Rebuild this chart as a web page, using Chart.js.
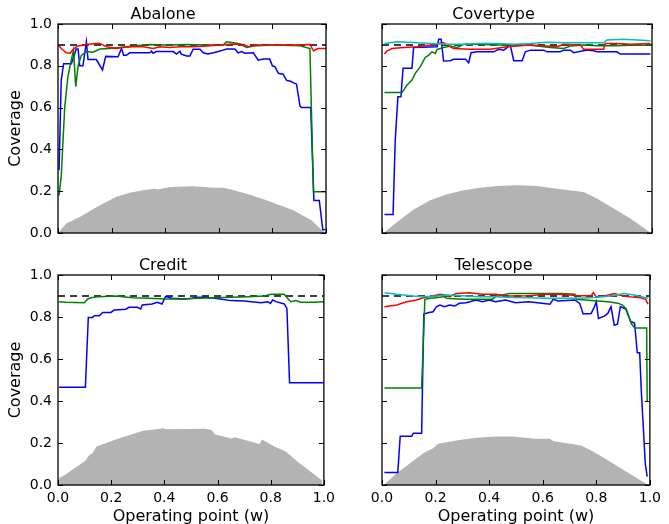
<!DOCTYPE html>
<html>
<head>
<meta charset="utf-8">
<script src="https://cdn.jsdelivr.net/npm/chart.js@4.4.0/dist/chart.umd.min.js"></script>
<style>
  html, body { margin: 0; padding: 0; background: #fff; }
  #wrap { position: relative; width: 669px; height: 524px; overflow: hidden; }
  canvas { position: absolute; }
</style>
</head>
<body>
<div id="wrap">
  <canvas id="abalone" width="340" height="250" style="left:0;top:0"></canvas>
  <canvas id="covertype" width="331" height="250" style="left:335px;top:0"></canvas>
  <canvas id="credit" width="340" height="273" style="left:0;top:251px"></canvas>
  <canvas id="telescope" width="331" height="273" style="left:335px;top:251px"></canvas>
</div>
<script>
// axis ticks shared by all panels
const tickValues = [0, 0.2, 0.4, 0.6, 0.8, 1.0];
const target = 0.9;

// Abalone
const abaloneBlue = [[0.004,0.30],[0.012,0.73],[0.021,0.81],[0.05,0.81],[0.068,0.88],[0.075,0.88],[0.081,0.80],[0.093,0.80],[0.106,0.915],[0.112,0.83],[0.143,0.83],[0.166,0.78],[0.178,0.845],[0.224,0.843],[0.237,0.883],[0.245,0.85],[0.255,0.85],[0.268,0.862],[0.342,0.862],[0.349,0.87],[0.355,0.86],[0.367,0.868],[0.43,0.868],[0.442,0.856],[0.455,0.87],[0.46,0.856],[0.48,0.847],[0.492,0.847],[0.504,0.879],[0.53,0.879],[0.542,0.862],[0.56,0.856],[0.58,0.862],[0.598,0.868],[0.616,0.875],[0.629,0.88],[0.66,0.88],[0.672,0.862],[0.685,0.868],[0.697,0.86],[0.729,0.862],[0.747,0.827],[0.766,0.832],[0.79,0.832],[0.8,0.80],[0.81,0.795],[0.822,0.764],[0.84,0.76],[0.853,0.73],[0.865,0.727],[0.89,0.712],[0.903,0.607],[0.909,0.60],[0.943,0.60],[0.955,0.155],[0.975,0.155],[0.988,0.016],[0.996,0.016]];
const abaloneGreen = [[0.004,0.18],[0.012,0.27],[0.025,0.60],[0.037,0.75],[0.05,0.83],[0.058,0.875],[0.066,0.70],[0.075,0.80],[0.087,0.85],[0.106,0.868],[0.131,0.865],[0.156,0.88],[0.193,0.883],[0.23,0.888],[0.28,0.895],[0.342,0.902],[0.405,0.899],[0.48,0.902],[0.554,0.899],[0.616,0.899],[0.629,0.915],[0.654,0.91],[0.679,0.904],[0.704,0.888],[0.729,0.895],[0.778,0.898],[0.84,0.898],[0.903,0.896],[0.94,0.883],[0.953,0.197],[1.0,0.197]];
const abaloneRed = [[0.0,0.902],[0.012,0.883],[0.031,0.862],[0.046,0.86],[0.056,0.879],[0.075,0.895],[0.106,0.902],[0.143,0.907],[0.156,0.907],[0.181,0.891],[0.218,0.883],[0.243,0.887],[0.28,0.891],[0.318,0.891],[0.355,0.883],[0.38,0.891],[0.417,0.888],[0.455,0.891],[0.504,0.891],[0.554,0.895],[0.604,0.899],[0.654,0.904],[0.691,0.902],[0.71,0.891],[0.741,0.899],[0.803,0.899],[0.878,0.899],[0.94,0.902],[0.953,0.872],[0.971,0.883],[1.0,0.883]];
const abaloneGray = [[0,0],[0.031,0.045],[0.081,0.077],[0.156,0.133],[0.218,0.173],[0.268,0.192],[0.318,0.205],[0.361,0.212],[0.374,0.208],[0.417,0.22],[0.504,0.224],[0.579,0.217],[0.616,0.216],[0.635,0.212],[0.704,0.188],[0.778,0.157],[0.878,0.109],[0.946,0.061],[0.996,0]];

// Covertype
const covertypeBlue = [[0.009,0.089],[0.041,0.089],[0.049,0.444],[0.059,0.652],[0.07,0.652],[0.078,0.788],[0.111,0.788],[0.117,0.888],[0.204,0.891],[0.21,0.927],[0.219,0.927],[0.228,0.823],[0.253,0.824],[0.265,0.831],[0.309,0.831],[0.321,0.815],[0.33,0.863],[0.352,0.867],[0.414,0.867],[0.432,0.879],[0.451,0.875],[0.475,0.899],[0.488,0.824],[0.519,0.824],[0.531,0.867],[0.549,0.875],[0.599,0.875],[0.611,0.867],[0.66,0.867],[0.673,0.875],[0.698,0.875],[0.71,0.863],[0.728,0.867],[0.759,0.875],[0.784,0.872],[0.796,0.867],[0.87,0.867],[0.883,0.856],[0.994,0.856]];
const covertypeGreen = [[0.009,0.672],[0.074,0.672],[0.093,0.708],[0.111,0.732],[0.123,0.764],[0.142,0.796],[0.16,0.84],[0.173,0.851],[0.185,0.867],[0.198,0.859],[0.204,0.879],[0.216,0.883],[0.228,0.888],[0.241,0.891],[0.253,0.895],[0.278,0.887],[0.302,0.903],[0.364,0.903],[0.426,0.899],[0.488,0.899],[0.549,0.898],[0.599,0.891],[0.623,0.887],[0.673,0.883],[0.698,0.895],[0.747,0.899],[0.796,0.896],[0.858,0.896],[0.92,0.898],[0.994,0.898]];
const covertypeRed = [[0.009,0.856],[0.019,0.872],[0.037,0.883],[0.08,0.888],[0.13,0.891],[0.179,0.899],[0.228,0.911],[0.241,0.899],[0.265,0.883],[0.327,0.879],[0.401,0.879],[0.463,0.891],[0.5,0.895],[0.549,0.899],[0.611,0.895],[0.648,0.891],[0.673,0.903],[0.735,0.899],[0.747,0.879],[0.821,0.879],[0.827,0.907],[0.87,0.907],[0.92,0.903],[0.994,0.907]];
const covertypeCyan = [[0.009,0.907],[0.056,0.915],[0.117,0.911],[0.179,0.907],[0.241,0.903],[0.302,0.903],[0.364,0.907],[0.426,0.907],[0.488,0.903],[0.549,0.907],[0.611,0.913],[0.673,0.91],[0.747,0.91],[0.821,0.91],[0.833,0.923],[0.895,0.927],[0.994,0.92]];
const covertypeGray = [[0.006,0],[0.056,0.053],[0.117,0.112],[0.179,0.157],[0.241,0.185],[0.302,0.204],[0.364,0.217],[0.426,0.225],[0.5,0.228],[0.574,0.225],[0.648,0.212],[0.747,0.196],[0.796,0.165],[0.858,0.117],[0.92,0.069],[0.996,0]];

// Credit
const creditBlue = [[0.004,0.465],[0.103,0.465],[0.114,0.798],[0.13,0.798],[0.137,0.806],[0.155,0.806],[0.168,0.822],[0.199,0.822],[0.211,0.833],[0.255,0.837],[0.267,0.846],[0.298,0.846],[0.311,0.838],[0.317,0.857],[0.354,0.862],[0.373,0.87],[0.391,0.862],[0.404,0.897],[0.416,0.894],[0.429,0.889],[0.478,0.886],[0.503,0.889],[0.528,0.894],[0.553,0.894],[0.59,0.889],[0.615,0.884],[0.652,0.878],[0.702,0.876],[0.727,0.873],[0.764,0.868],[0.789,0.873],[0.799,0.865],[0.807,0.881],[0.82,0.873],[0.851,0.862],[0.861,0.841],[0.871,0.487],[1.0,0.487]];
const creditGreen = [[0.004,0.873],[0.031,0.87],[0.099,0.868],[0.112,0.886],[0.124,0.892],[0.155,0.897],[0.217,0.9],[0.28,0.892],[0.342,0.889],[0.404,0.886],[0.466,0.886],[0.528,0.889],[0.59,0.892],[0.652,0.894],[0.714,0.897],[0.776,0.9],[0.801,0.908],[0.851,0.908],[0.863,0.889],[0.876,0.873],[0.894,0.878],[0.913,0.87],[0.963,0.87],[1.0,0.873]];
const creditGray = [[0.004,0.032],[0.031,0.052],[0.103,0.116],[0.118,0.143],[0.13,0.151],[0.145,0.183],[0.217,0.217],[0.317,0.257],[0.398,0.27],[0.404,0.265],[0.478,0.267],[0.553,0.268],[0.578,0.262],[0.59,0.241],[0.615,0.233],[0.652,0.222],[0.665,0.227],[0.727,0.206],[0.758,0.195],[0.767,0.217],[0.814,0.183],[0.857,0.159],[0.901,0.111],[0.994,0.021]];

// Telescope
const telescopeBlue = [[0.009,0.06],[0.059,0.06],[0.068,0.232],[0.111,0.232],[0.117,0.247],[0.148,0.247],[0.156,0.814],[0.172,0.82],[0.191,0.825],[0.203,0.849],[0.216,0.857],[0.234,0.849],[0.252,0.857],[0.271,0.852],[0.289,0.865],[0.314,0.868],[0.351,0.881],[0.375,0.873],[0.4,0.881],[0.424,0.873],[0.461,0.881],[0.498,0.868],[0.547,0.873],[0.597,0.865],[0.627,0.861],[0.639,0.884],[0.658,0.876],[0.72,0.881],[0.738,0.865],[0.751,0.814],[0.781,0.817],[0.793,0.849],[0.8,0.873],[0.808,0.793],[0.83,0.804],[0.843,0.817],[0.855,0.849],[0.867,0.761],[0.879,0.766],[0.89,0.85],[0.91,0.838],[0.928,0.78],[0.943,0.77],[0.953,0.63],[0.962,0.63],[0.968,0.45],[0.983,0.10],[0.99,0.04]];
const telescopeGreen = [[0.009,0.462],[0.148,0.462],[0.16,0.884],[0.178,0.889],[0.203,0.892],[0.234,0.897],[0.24,0.889],[0.301,0.885],[0.363,0.885],[0.412,0.885],[0.424,0.897],[0.474,0.912],[0.547,0.912],[0.67,0.912],[0.72,0.908],[0.726,0.884],[0.793,0.877],[0.843,0.873],[0.881,0.866],[0.898,0.857],[0.912,0.837],[0.93,0.77],[0.943,0.748],[0.988,0.748],[0.99,0.40]];
const telescopeRed = [[0.009,0.849],[0.055,0.857],[0.092,0.873],[0.129,0.881],[0.154,0.892],[0.178,0.897],[0.216,0.908],[0.234,0.905],[0.252,0.897],[0.277,0.912],[0.326,0.916],[0.375,0.908],[0.424,0.908],[0.474,0.9],[0.547,0.901],[0.609,0.908],[0.67,0.908],[0.732,0.901],[0.781,0.901],[0.789,0.916],[0.799,0.897],[0.83,0.9],[0.867,0.912],[0.886,0.905],[0.916,0.897],[0.966,0.892],[0.984,0.884],[0.993,0.861]];
const telescopeCyan = [[0.009,0.916],[0.055,0.908],[0.117,0.9],[0.154,0.897],[0.203,0.9],[0.24,0.905],[0.301,0.901],[0.363,0.897],[0.424,0.897],[0.486,0.893],[0.547,0.892],[0.609,0.889],[0.67,0.889],[0.732,0.889],[0.793,0.893],[0.855,0.9],[0.904,0.912],[0.941,0.905],[0.993,0.889]];
const telescopeGray = [[0.006,0],[0.055,0.056],[0.117,0.116],[0.16,0.156],[0.191,0.175],[0.209,0.196],[0.277,0.212],[0.351,0.225],[0.424,0.231],[0.486,0.231],[0.572,0.22],[0.627,0.22],[0.639,0.209],[0.72,0.193],[0.744,0.188],[0.793,0.156],[0.855,0.108],[0.916,0.061],[0.993,0]];

Chart.defaults.font.family = "'DejaVu Sans', 'Bitstream Vera Sans', sans-serif";
Chart.defaults.color = "#000";

const toXY = (pairs) => pairs.map(([x, y]) => ({ x, y }));

// matplotlib-style frame with inward ticks on all four sides
const frameTicks = {
	id: "frameTicks",
	afterDatasetsDraw(chart) {
		const { ctx, chartArea: a, scales } = chart;
		const x = scales.x, y = scales.y;
		ctx.save();
		ctx.strokeStyle = "#000";
		ctx.lineWidth = 1;
		ctx.beginPath();
		x.ticks.forEach((t) => {
			const px = Math.round(x.getPixelForValue(t.value)) + 0.5;
			ctx.moveTo(px, a.bottom);
			ctx.lineTo(px, a.bottom - 5);
			ctx.moveTo(px, a.top);
			ctx.lineTo(px, a.top + 5);
		});
		y.ticks.forEach((t) => {
			const py = Math.round(y.getPixelForValue(t.value)) + 0.5;
			ctx.moveTo(a.left, py);
			ctx.lineTo(a.left + 5, py);
			ctx.moveTo(a.right, py);
			ctx.lineTo(a.right - 5, py);
		});
		ctx.stroke();
		ctx.lineWidth = 1.3;
		ctx.strokeRect(a.left, a.top, a.right - a.left, a.bottom - a.top);
		ctx.restore();
	},
};

function lineSet(pairs, color, order) {
	return {
		data: toXY(pairs),
		borderColor: color,
		borderWidth: 1.5,
		pointRadius: 0,
		fill: false,
		tension: 0,
		order: order,
	};
}

function makeChart(id, title, series, gray, opts) {
	const datasets = [
		{
			data: toXY(gray),
			borderWidth: 0,
			borderColor: "rgba(0,0,0,0)",
			backgroundColor: "#b3b3b3",
			pointRadius: 0,
			fill: "origin",
			order: 10,
		},
		{
			data: [{ x: 0, y: target }, { x: 1, y: target }],
			borderColor: "#000",
			borderWidth: 1.5,
			borderDash: [7, 5],
			pointRadius: 0,
			fill: false,
			order: 9,
		},
	];
	series.forEach((s, i) => datasets.push(lineSet(s.data, s.color, 8 - i)));

	return new Chart(document.getElementById(id), {
		type: "line",
		data: { datasets },
		options: {
			responsive: false,
			animation: false,
			events: [],
			layout: { padding: { left: 0, right: 14, top: 0, bottom: opts.bottomPad } },
			plugins: {
				legend: { display: false },
				tooltip: { enabled: false },
				title: {
					display: true,
					text: title,
					color: "#000",
					font: { size: 16, weight: "normal", lineHeight: 1 },
					padding: { top: 7, bottom: 1 },
				},
			},
			scales: {
				x: {
					type: "linear",
					min: 0,
					max: 1,
					afterBuildTicks: (s) => { s.ticks = tickValues.map((v) => ({ value: v })); },
					afterFit: (s) => { s.height = opts.xHeight; },
					grid: { display: false, drawTicks: false },
					border: { display: false },
					ticks: {
						display: opts.showX,
						padding: 5,
						maxRotation: 0,
						autoSkip: false,
						font: { size: 14 },
						callback: (v) => Number(v).toFixed(1),
					},
					title: {
						display: opts.showX,
						text: "Operating point (w)",
						font: { size: 16, lineHeight: 1 },
						padding: { top: 0, bottom: -1 },
					},
				},
				y: {
					type: "linear",
					min: 0,
					max: 1,
					afterBuildTicks: (s) => { s.ticks = tickValues.map((v) => ({ value: v })); },
					afterFit: (s) => { s.width = opts.yWidth; },
					grid: { display: false, drawTicks: false },
					border: { display: false },
					ticks: {
						display: opts.showY,
						padding: 6,
						font: { size: 14 },
						callback: (v) => Number(v).toFixed(1),
					},
					title: {
						display: opts.showY,
						text: "Coverage",
						font: { size: 16, lineHeight: 1 },
						padding: { top: 8, bottom: 0 },
					},
				},
			},
		},
		plugins: [frameTicks],
	});
}

makeChart("abalone", "Abalone",
	[
		{ data: abaloneBlue, color: "#0000ff" },
		{ data: abaloneGreen, color: "#008000" },
		{ data: abaloneRed, color: "#ff0000" },
	],
	abaloneGray,
	{ showX: false, showY: true, yWidth: 58, xHeight: 0, bottomPad: 17 });

makeChart("covertype", "Covertype",
	[
		{ data: covertypeBlue, color: "#0000ff" },
		{ data: covertypeGreen, color: "#008000" },
		{ data: covertypeRed, color: "#ff0000" },
		{ data: covertypeCyan, color: "#00bfbf" },
	],
	covertypeGray,
	{ showX: false, showY: false, yWidth: 47, xHeight: 0, bottomPad: 17 });

makeChart("credit", "Credit",
	[
		{ data: creditBlue, color: "#0000ff" },
		{ data: creditGreen, color: "#008000" },
	],
	creditGray,
	{ showX: true, showY: true, yWidth: 58, xHeight: 39, bottomPad: 0 });

makeChart("telescope", "Telescope",
	[
		{ data: telescopeBlue, color: "#0000ff" },
		{ data: telescopeGreen, color: "#008000" },
		{ data: telescopeRed, color: "#ff0000" },
		{ data: telescopeCyan, color: "#00bfbf" },
	],
	telescopeGray,
	{ showX: true, showY: false, yWidth: 47, xHeight: 39, bottomPad: 0 });
</script>
</body>
</html>
